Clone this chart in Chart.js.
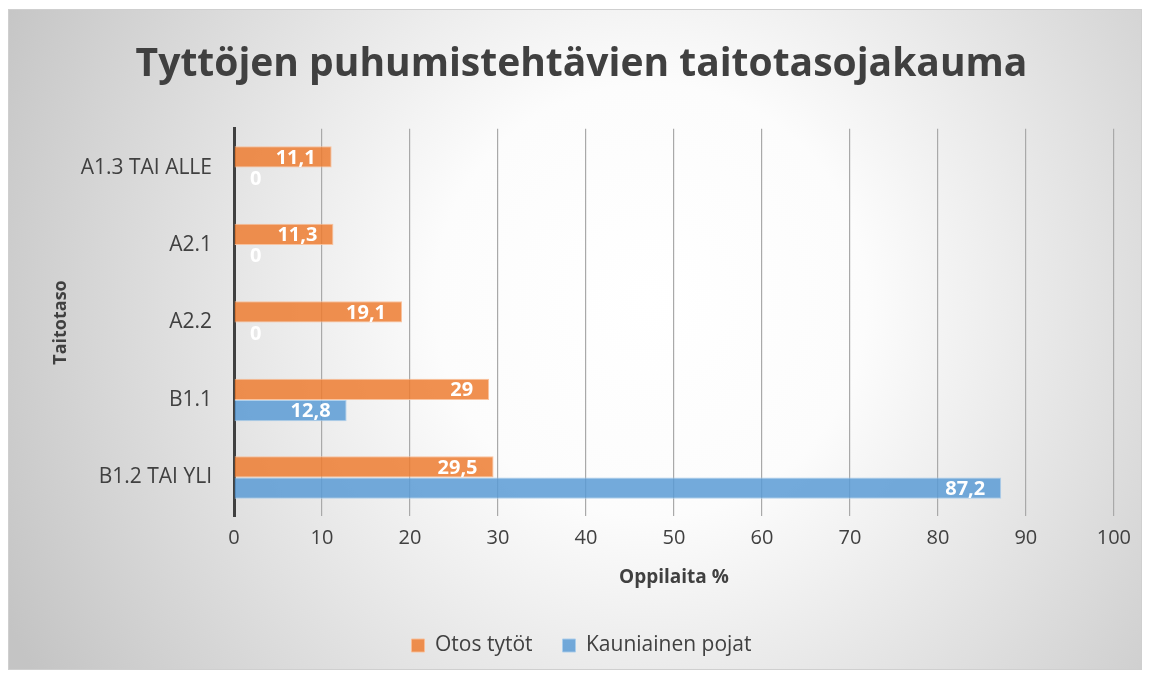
<!DOCTYPE html>
<html>
<head>
<meta charset="utf-8">
<script src="https://cdn.jsdelivr.net/npm/chart.js@4.4.1/dist/chart.umd.min.js"></script>
<style>
  html, body { margin: 0; padding: 0; background: #fff; }
  .chart_box {
    position: absolute; left: 8px; top: 9px;
    width: 1132px; height: 659px;
    border: 1px solid #cfcfcf;
  }
</style>
</head>
<body>
<div class="chart_box"><canvas id="bar-chart"></canvas></div>
<script>
const categories = ["A1.3 TAI ALLE", "A2.1", "A2.2", "B1.1", "B1.2 TAI YLI"];
const otosTytot = [11.1, 11.3, 19.1, 29, 29.5];
const kauniainenPojat = [0, 0, 0, 12.8, 87.2];
const xTicks = [0, 10, 20, 30, 40, 50, 60, 70, 80, 90, 100];

const textColor = "#404040";
const fontName = "'Open Sans', sans-serif";

// grey radial background like the office chart
const backgroundPlugin = {
  id: "bg",
  beforeDraw(chart) {
    const ctx = chart.ctx;
    const w = chart.width, h = chart.height;
    const g = ctx.createRadialGradient(641, 290, 0, 641, 290, 720);
    g.addColorStop(0, "#ffffff");
    g.addColorStop(0.3, "#fcfcfc");
    g.addColorStop(1, "#c4c4c4");
    ctx.save();
    ctx.fillStyle = g;
    ctx.fillRect(0, 0, w, h);
    ctx.restore();
  },
};

// value labels inside the bar end, with comma decimals
const valueLabels = {
  id: "valueLabels",
  afterDatasetsDraw(chart) {
    const ctx = chart.ctx;
    ctx.save();
    ctx.font = "bold 20px " + fontName;
    ctx.fillStyle = "#ffffff";
    ctx.textAlign = "right";
    ctx.textBaseline = "middle";
    chart.data.datasets.forEach((ds, i) => {
      const meta = chart.getDatasetMeta(i);
      meta.data.forEach((bar, j) => {
        const txt = String(ds.data[j]).replace(".", ",");
        const tw = ctx.measureText(txt).width;
        const x = Math.max(bar.x - 16, bar.base + 16 + tw);
        ctx.fillText(txt, x, bar.y + 1);
      });
    });
    ctx.restore();
  },
};

new Chart(document.getElementById("bar-chart"), {
  type: "bar",
  data: {
    labels: categories,
    datasets: [
      {
        label: "Otos tytöt",
        data: otosTytot,
        backgroundColor: "rgba(237,125,49,0.85)",
        borderColor: "rgba(250,190,150,0.9)",
        borderWidth: 1,
      },
      {
        label: "Kauniainen pojat",
        data: kauniainenPojat,
        backgroundColor: "rgba(91,155,213,0.85)",
        borderColor: "rgba(170,205,235,0.9)",
        borderWidth: 1,
      },
    ],
  },
  options: {
    indexAxis: "y",
    responsive: true,
    maintainAspectRatio: false,
    animation: false,
    categoryPercentage: 0.55,
    barPercentage: 1,
    layout: { padding: { left: 40, right: 27, top: 0, bottom: 3 } },
    plugins: {
      title: {
        display: true,
        text: "Tyttöjen puhumistehtävien taitotasojakauma",
        color: textColor,
        font: { family: fontName, size: 39, weight: "bold" },
        padding: { top: 31, bottom: 41 },
      },
      legend: {
        position: "bottom",
        labels: {
          color: textColor,
          font: { family: fontName, size: 21 },
          boxWidth: 13,
          boxHeight: 13,
          padding: 30,
        },
      },
      tooltip: { enabled: false },
    },
    scales: {
      x: {
        min: 0,
        max: 100,
        afterBuildTicks: (scale) => {
          scale.ticks = xTicks.map((v) => ({ value: v }));
        },
        grid: { color: "#a9a9a9", lineWidth: 1.2, drawTicks: false },
        border: { display: false },
        ticks: {
          color: textColor,
          padding: 10,
          font: { family: fontName, size: 20 },
        },
        title: {
          display: true,
          text: "Oppilaita %",
          color: textColor,
          font: { family: fontName, size: 19, weight: "bold" },
          padding: { top: 6, bottom: 16 },
        },
      },
      y: {
        afterFit: (scale) => {
          scale.width = 185;
        },
        grid: { color: "rgba(0,0,0,0)", drawTicks: false },
        border: { display: true, color: textColor, width: 3 },
        ticks: {
          color: textColor,
          padding: 22,
          font: { family: fontName, size: 21 },
        },
        title: {
          display: true,
          text: "Taitotaso",
          color: textColor,
          font: { family: fontName, size: 18, weight: "bold" },
          padding: { top: 1, bottom: 0 },
        },
      },
    },
  },
  plugins: [backgroundPlugin, valueLabels],
});
</script>
</body>
</html>
